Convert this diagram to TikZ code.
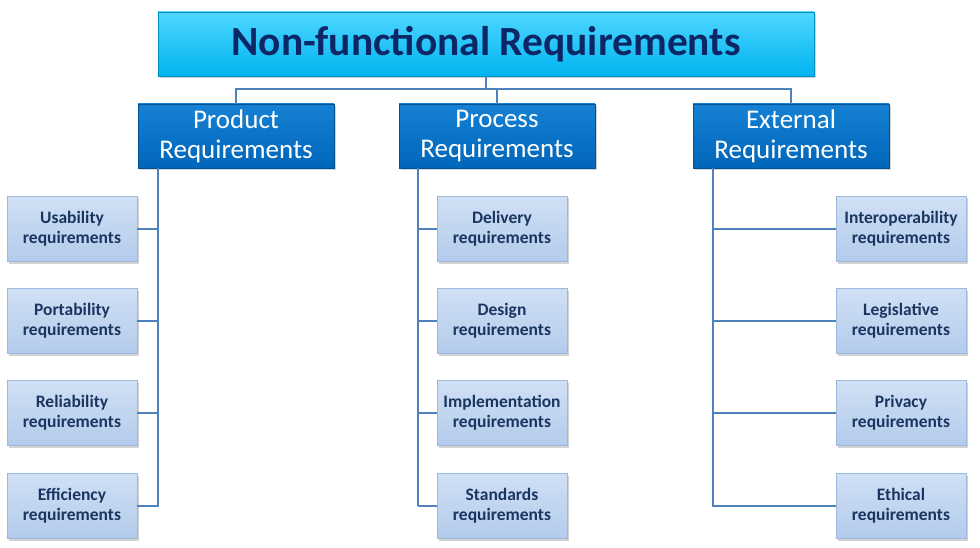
\documentclass[tikz,border=0pt]{standalone}
\usepackage{fontspec}
\setmainfont{Carlito}
\usetikzlibrary{positioning}
\usetikzlibrary{shadows}
\definecolor{titletop}{HTML}{4FD6FF}
\definecolor{titlebot}{HTML}{00B4F0}
\definecolor{titletext}{HTML}{0D2766}
\definecolor{midtop}{HTML}{1681D4}
\definecolor{midbot}{HTML}{0066BA}
\definecolor{leaftop}{HTML}{D0E0F5}
\definecolor{leafbot}{HTML}{B3CBEB}
\definecolor{leafline}{HTML}{9DB8DD}
\definecolor{leaftext}{HTML}{1A3560}
\definecolor{wire}{HTML}{4F81BD}
\tikzset{
  boxshadow/.style = {drop shadow={opacity=0.35, shadow xshift=2pt, shadow yshift=-2pt}},
  topbox/.style = {draw=titlebot!80!black, top color=titletop, bottom color=titlebot,
    boxshadow, minimum width=656pt, minimum height=64pt, inner sep=0,
    font=\fontsize{41.5}{46}\selectfont\bfseries, text=titletext},
  midbox/.style = {draw=midbot!80!black, top color=midtop, bottom color=midbot,
    boxshadow, minimum width=196pt, minimum height=64pt, inner sep=0, align=center,
    font=\fontsize{27}{30}\selectfont, text=white},
  leafbox/.style = {draw=leafline, top color=leaftop, bottom color=leafbot,
    boxshadow, minimum width=130pt, minimum height=65pt, inner sep=0, align=center,
    font=\fontsize{17.5}{20}\selectfont\bfseries, text=leaftext},
  wire/.style = {draw=wire, line width=2.8pt}
}

\begin{document}
\begin{tikzpicture}[x=1pt, y=-1pt]
  \useasboundingbox (0,0) rectangle (980,548);

  \node [topbox] (nfr) at (486,44) {Non-functional Requirements};
  \node [midbox] (prod) at (236,136) {Product\\Requirements};
  \node [midbox] (proc) at (497,136) {Process\\Requirements};
  \node [midbox] (ext) at (791,136) {External\\Requirements};

  \coordinate (bus) at (486,89);
  \draw [wire] (nfr.south) -- (bus);
  \draw [wire] (prod.north) |- (bus) -| (ext.north);
  \draw [wire] (bus -| proc.north) -- (proc.north);

  % product column
  \coordinate (ptrunk) at (158,168);
  \foreach \n/\y/\t in {1/229/Usability, 2/321/Portability, 3/413/Reliability, 4/506/Efficiency} {
    \node [leafbox] (p\n) at (72,\y) {\t\\requirements};
  }
  \draw [wire] (ptrunk) |- (p4.east);
  \foreach \n in {1,2,3}
    \draw [wire] (p\n.east) -- (p\n.east -| ptrunk);

  % process column
  \coordinate (qtrunk) at (418,168);
  \foreach \n/\y/\t in {1/229/Delivery, 2/321/Design, 3/413/Implementation, 4/506/Standards} {
    \node [leafbox] (q\n) at (502,\y) {\t\\requirements};
  }
  \draw [wire] (qtrunk) -- (qtrunk |- q4.west);
  \foreach \n in {1,2,3,4}
    \draw [wire] (q\n.west) -- (q\n.west -| qtrunk);

  % external column
  \coordinate (etrunk) at (713,168);
  \foreach \n/\y/\t in {1/229/Interoperability, 2/321/Legislative, 3/413/Privacy, 4/506/Ethical} {
    \node [leafbox] (e\n) at (901,\y) {\t\\requirements};
  }
  \draw [wire] (etrunk) |- (e4.west);
  \foreach \n in {1,2,3}
    \draw [wire] (e\n.west) -- (e\n.west -| etrunk);
\end{tikzpicture}
\end{document}
